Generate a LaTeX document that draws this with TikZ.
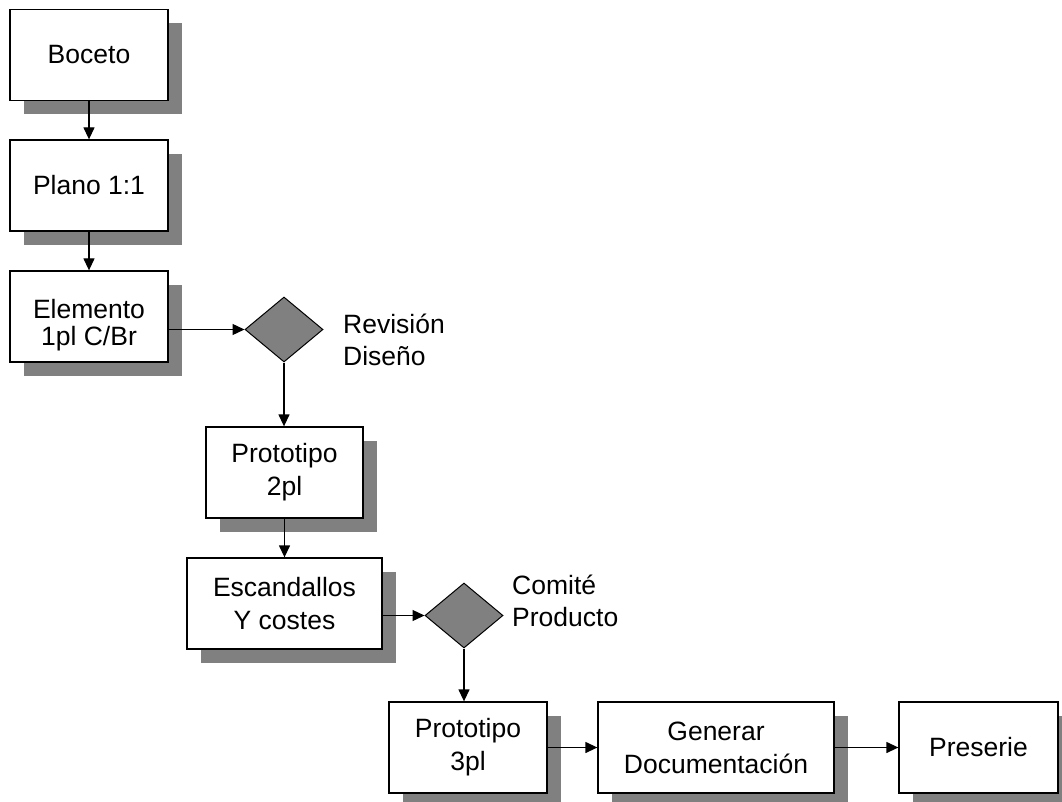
\documentclass[tikz,border=0pt]{standalone}
\usepackage{fontspec}
\setmainfont{Liberation Sans}
\usetikzlibrary{shapes.geometric,arrows.meta,shadows}
\definecolor{shade}{RGB}{128,128,128}
\tikzset{
  box/.style={draw=black, line width=1.3pt, fill=white, inner sep=0pt,
    minimum width=158pt, minimum height=91pt, align=center,
    font=\fontsize{26.5}{33}\selectfont,
    drop shadow={shadow xshift=14pt, shadow yshift=-14pt, fill=shade, opacity=1}},
  dia/.style={draw=black, line width=1pt, fill=shade, shape=diamond, inner sep=0pt,
    minimum width=78pt, minimum height=65pt},
  lbl/.style={anchor=west, align=left, inner sep=0pt, font=\fontsize{26.5}{32}\selectfont},
  arr/.style={line width=1.3pt, -{Triangle[length=12pt,width=11pt]}}
}
\begin{document}
\begin{tikzpicture}[x=1pt,y=-1pt]
\useasboundingbox (0,0) rectangle (1062,802);
\node[box] (boc) at (89,55) {Boceto};
\node[box] (pla) at (89,185.5) {Plano 1:1};
\node[box, font=\fontsize{26.5}{27}\selectfont, text height=57pt, text depth=0pt] (ele) at (89,316.5) {Elemento\\1pl C/Br};
\node[dia] (rev) at (284,329.5) {};
\node[lbl] (revl) at (343,340) {Revisión\\Diseño};
\node[box, minimum width=157pt] (p2) at (284.5,472.5) {Prototipo\\2pl};
\node[box, minimum width=195pt] (esc) at (284.5,603.5) {Escandallos\\Y costes};
\node[dia] (com) at (464,615.5) {};
\node[lbl] (coml) at (512,601) {Comité\\Producto};
\node[box] (p3) at (468,747.5) {Prototipo\\3pl};
\node[box, minimum width=236pt] (gen) at (716,747.5) {Generar\\Documentación};
\node[box, minimum width=159pt] (pre) at (978.5,747.5) {Preserie};
\draw[arr] (boc) -- (pla);
\draw[arr] (pla) -- (ele);
\draw[arr] (ele.east |- rev.west) -- (rev.west);
\draw[arr] (rev.south) -- (rev.south |- p2.north);
\draw[arr] (p2) -- (esc);
\draw[arr] (esc.east |- com.west) -- (com.west);
\draw[arr] (com.south) -- (com.south |- p3.north);
\draw[arr] (p3) -- (gen);
\draw[arr] (gen) -- (pre);
\end{tikzpicture}
\end{document}
